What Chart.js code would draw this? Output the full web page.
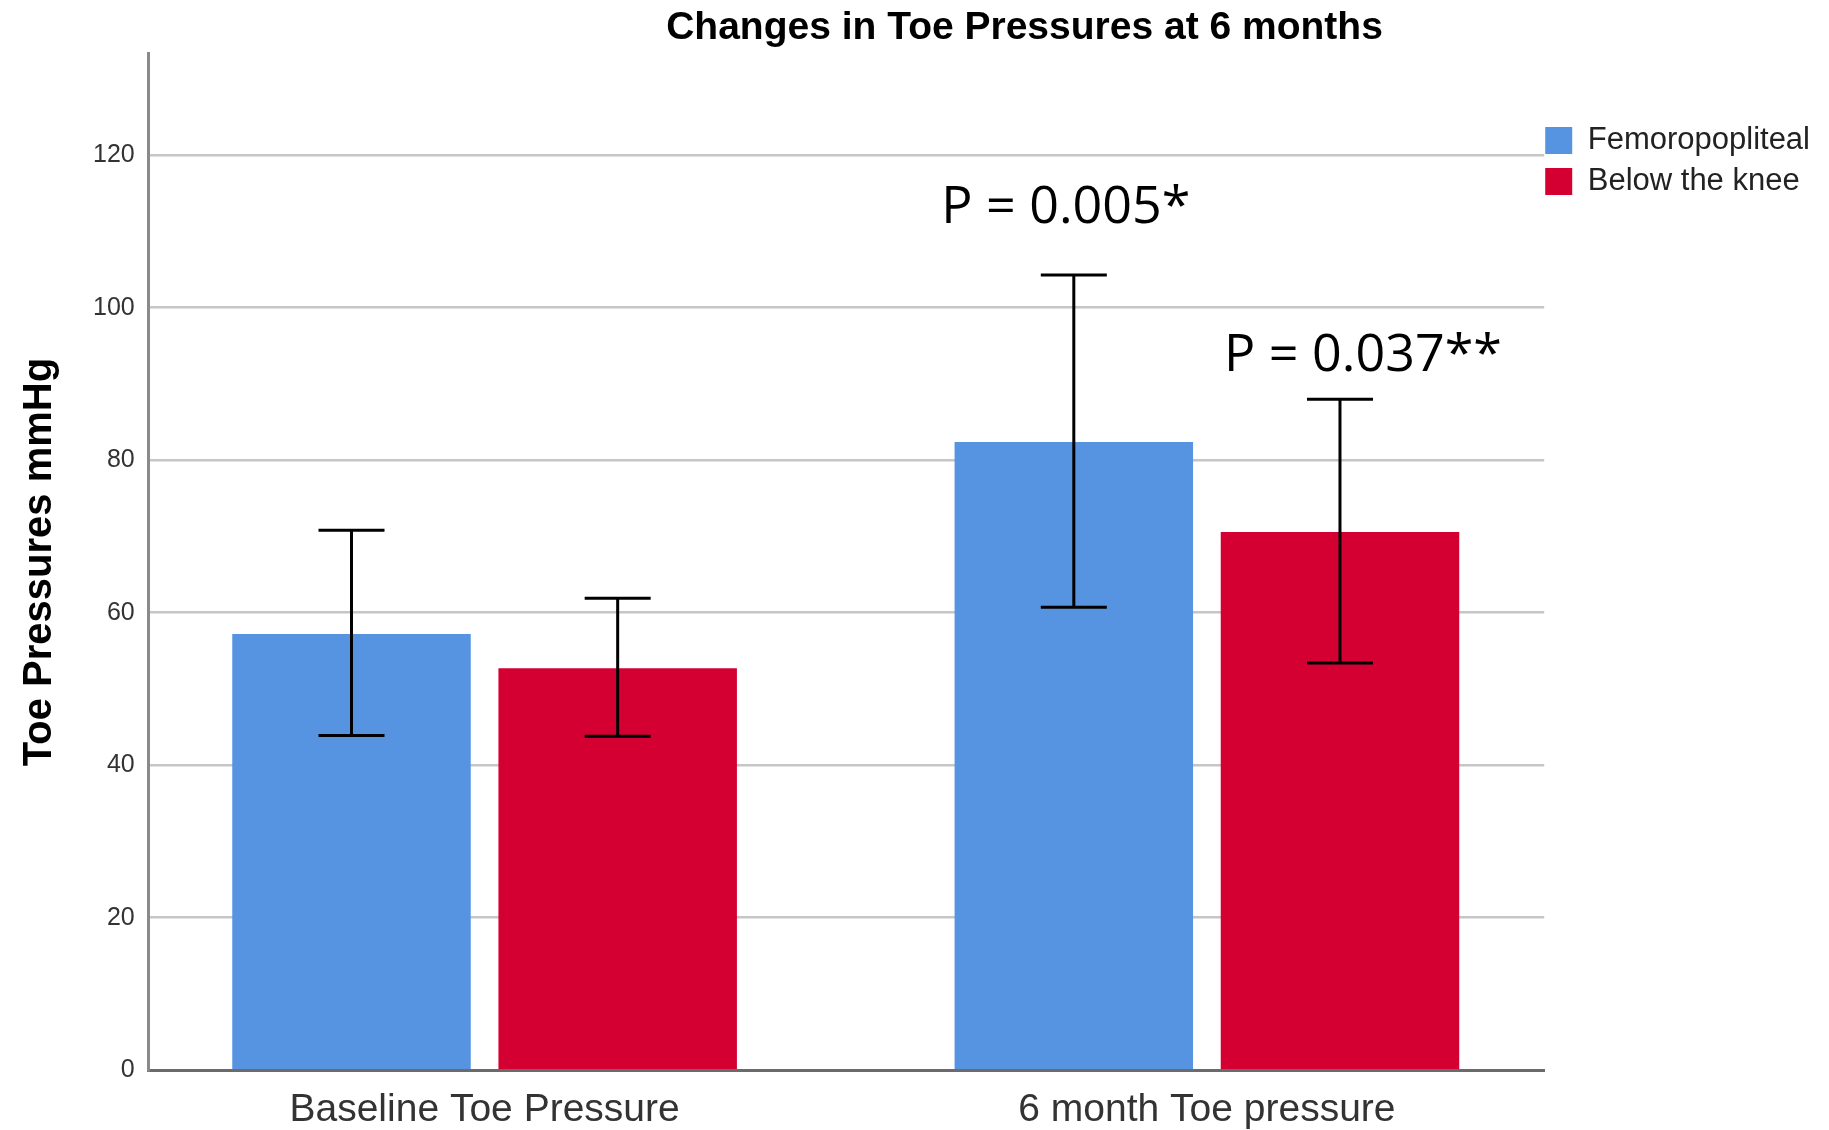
<!DOCTYPE html>
<html><head><meta charset="utf-8">
<script src="https://cdn.jsdelivr.net/npm/chart.js@4.4.0/dist/chart.umd.min.js"></script>
<style>html,body{margin:0;padding:0;background:#fff;overflow:hidden}</style>
</head><body>
<canvas id="c" width="1829" height="1130" style="width:1829px;height:1130px;display:block"></canvas>
<script>
// ---- data ----
const categories = ['Baseline Toe Pressure', '6 month Toe pressure'];
const seriesNames = ['Femoropopliteal', 'Below the knee'];
const femMeans = [57.2, 82.4];
const femLower = [43.9, 60.7];
const femUpper = [70.8, 104.3];
const btkMeans = [52.7, 70.6];
const btkLower = [43.8, 53.4];
const btkUpper = [61.9, 88.0];
const yTicks = [0, 20, 40, 60, 80, 100, 120];
const yMax = 133.3;
const pTexts = ['P = 0.005*', 'P = 0.037**'];

const lowers = [femLower, btkLower];
const uppers = [femUpper, btkUpper];
const toPoints = (arr) => arr.map((v, i) => ({ x: i, y: v }));

const errorBars = {
  id: 'errorBars',
  afterDatasetsDraw(chart) {
    const ctx = chart.ctx, y = chart.scales.y;
    ctx.save();
    ctx.strokeStyle = '#000';
    ctx.lineWidth = 3;
    chart.data.datasets.forEach((ds, di) => {
      chart.getDatasetMeta(di).data.forEach((bar, i) => {
        const yt = y.getPixelForValue(uppers[di][i]);
        const yb = y.getPixelForValue(lowers[di][i]);
        const hw = 33;
        ctx.beginPath();
        ctx.moveTo(bar.x, yt); ctx.lineTo(bar.x, yb);
        ctx.moveTo(bar.x - hw, yt); ctx.lineTo(bar.x + hw, yt);
        ctx.moveTo(bar.x - hw, yb); ctx.lineTo(bar.x + hw, yb);
        ctx.stroke();
      });
    });
    // p-value annotations above the 6-month error bars
    const offs = [[-8, -67], [23, -43]];
    ctx.fillStyle = '#000';
    ctx.font = '52px "Open Sans"';
    ctx.textAlign = 'center';
    ctx.textBaseline = 'middle';
    pTexts.forEach((t, di) => {
      const bar = chart.getDatasetMeta(di).data[1];
      const yt = y.getPixelForValue(uppers[di][1]);
      ctx.fillText(t, bar.x + offs[di][0], yt + offs[di][1]);
    });
    ctx.restore();
  }
};

const shiftBlocks = {
  id: 'shiftBlocks',
  afterLayout(chart) {
    if (chart.titleBlock) { chart.titleBlock.left += 110; chart.titleBlock.right += 110; }
    if (chart.legend) { chart.legend.left -= 9; chart.legend.right -= 9; }
  }
};

new Chart(document.getElementById('c'), {
  type: 'bar',
  data: {
    datasets: [
      { label: seriesNames[0], data: toPoints(femMeans), backgroundColor: '#5694E2', borderWidth: 0 },
      { label: seriesNames[1], data: toPoints(btkMeans), backgroundColor: '#D50032', borderWidth: 0 }
    ]
  },
  options: {
    responsive: false,
    devicePixelRatio: 1,
    animation: false,
    categoryPercentage: 0.737,
    barPercentage: 0.896,
    layout: { padding: { left: 0, right: 0, top: 0, bottom: -21 } },
    plugins: {
      title: {
        display: true,
        text: 'Changes in Toe Pressures at 6 months',
        color: '#000',
        font: { family: 'Liberation Sans, Arial', size: 39, weight: 'bold' },
        padding: { top: 5, bottom: 2 }
      },
      legend: {
        position: 'right',
        align: 'start',
        title: { display: true, text: ' ', font: { size: 10 }, padding: { top: 78, bottom: 25 } },
        labels: {
          boxWidth: 27, boxHeight: 27, padding: 10,
          color: '#222',
          font: { family: 'Liberation Sans, Arial', size: 31 }
        }
      },
      tooltip: { enabled: false }
    },
    scales: {
      x: {
        type: 'linear',
        min: -0.465, max: 1.467,
        offset: false,
        afterBuildTicks: (scale) => { scale.ticks = categories.map((c, i) => ({ value: i })); },
        grid: { display: false, drawTicks: false },
        border: { display: true, color: '#6b6b6b', width: 3 },
        ticks: {
          color: '#333', padding: 17, maxRotation: 0, autoSkip: false,
          font: { family: 'Liberation Sans, Arial', size: 39 },
          callback: (v) => categories[v]
        }
      },
      y: {
        min: 0, max: yMax,
        afterBuildTicks: (scale) => { scale.ticks = yTicks.map(v => ({ value: v })); },
        grid: { color: '#c6c6c6', lineWidth: 2.5, drawTicks: false },
        border: { display: true, color: '#8a8a8a', width: 3 },
        ticks: { color: '#333', padding: 14, font: { family: 'Liberation Sans, Arial', size: 25 } },
        title: {
          display: true,
          text: 'Toe Pressures mmHg',
          color: '#000',
          font: { family: 'Liberation Sans, Arial', size: 40, weight: 'bold' },
          padding: { top: 16, bottom: 15 }
        }
      }
    }
  },
  plugins: [errorBars, shiftBlocks]
});
</script>
</body></html>
